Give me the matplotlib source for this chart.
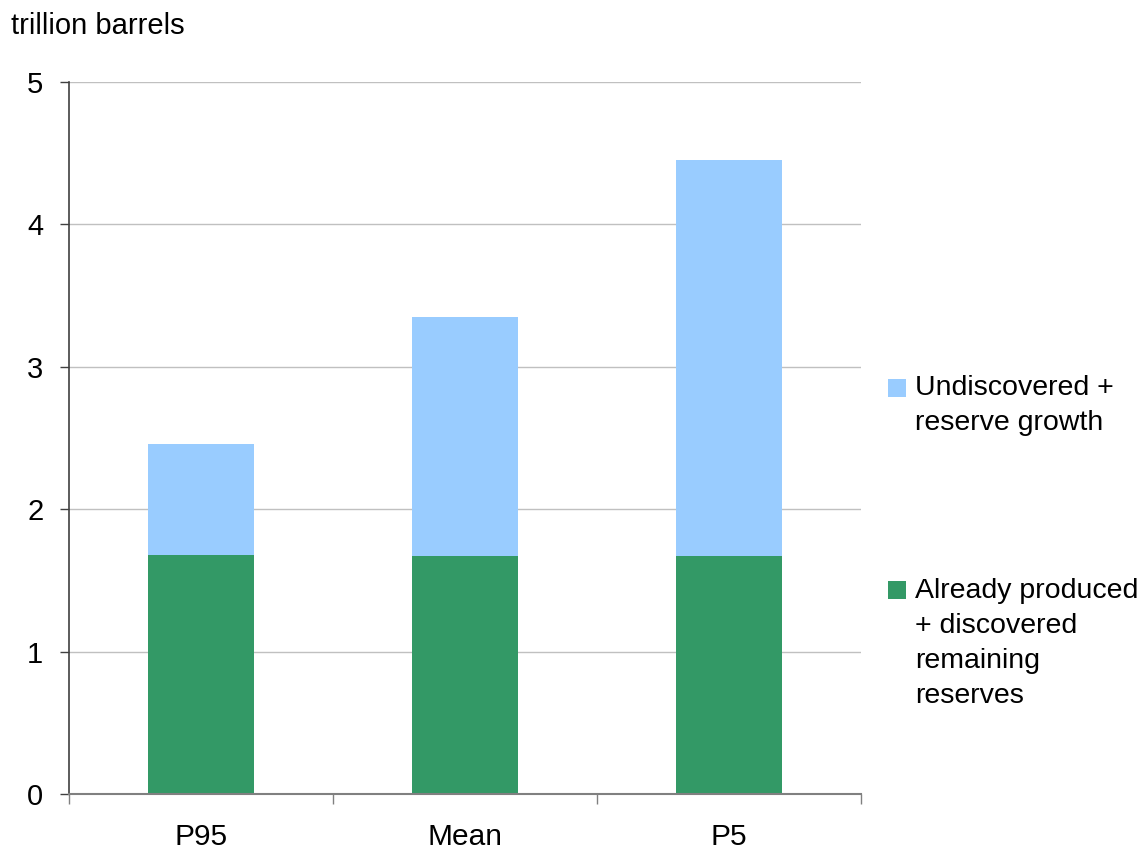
import numpy as np
import matplotlib.pyplot as plt
from matplotlib.patches import Rectangle

plt.rcParams['font.family'] = ['Liberation Sans', 'DejaVu Sans']

categories = ['P95', 'Mean', 'P5']
produced = [1.68, 1.67, 1.67]
totals = [2.46, 3.35, 4.45]
undiscovered = [t - p for t, p in zip(totals, produced)]

lbl_produced = 'Already produced\n+ discovered\nremaining\nreserves'
lbl_undisc = 'Undiscovered +\nreserve growth'
green = '#339966'
blue = '#99CCFF'

fig = plt.figure(figsize=(11.48, 8.5), dpi=100)
ax = fig.add_axes([0.0601, 0.0659, 0.6899, 0.8376])

x = np.arange(len(categories))
b1 = ax.bar(x, produced, 0.4, color=green, zorder=2)
b2 = ax.bar(x, undiscovered, 0.4, bottom=produced, color=blue, zorder=2)

ax.set_xlim(-0.5, 2.5)
ax.set_ylim(0, 5)
ax.set_yticks(range(6))
ax.yaxis.grid(True, color='#c0c0c0', lw=1)
ax.set_axisbelow(True)
ax.tick_params(axis='y', labelsize=21, length=6.5, width=1, direction='out',
               pad=12, color='#404040')

# category ticks sit between groups
ax.set_xticks(np.arange(-0.5, 3, 1))
ax.set_xticklabels([])
ax.set_xticks(x, minor=True)
ax.set_xticklabels(categories, minor=True, fontsize=21.5)
ax.tick_params(axis='x', which='major', length=7, width=1, direction='out', color='#808080')
ax.tick_params(axis='x', which='minor', length=0, pad=21)

for s in ['top', 'right']:
    ax.spines[s].set_visible(False)
ax.spines['left'].set_color('#404040')
ax.spines['left'].set_linewidth(1.2)
ax.spines['bottom'].set_color('#808080')
ax.spines['bottom'].set_linewidth(1.5)

fig.text(0.010, 0.970, 'trillion barrels', fontsize=21, va='center', ha='left')

# legend drawn by hand so the swatch sits on the first text line
entries = [(b2, lbl_undisc, 0.5329, 0.5229), (b1, lbl_produced, 0.2953, 0.2429)]
for bars, label, ybox, ytxt in entries:
    fig.add_artist(Rectangle((0.7735, ybox), 0.0157, 0.0212, transform=fig.transFigure,
                             facecolor=bars.patches[0].get_facecolor(), edgecolor='none'))
    fig.text(0.797, ytxt, label, fontsize=20.5, va='center', ha='left', linespacing=1.46)

fig.savefig('out.png', dpi=100)
